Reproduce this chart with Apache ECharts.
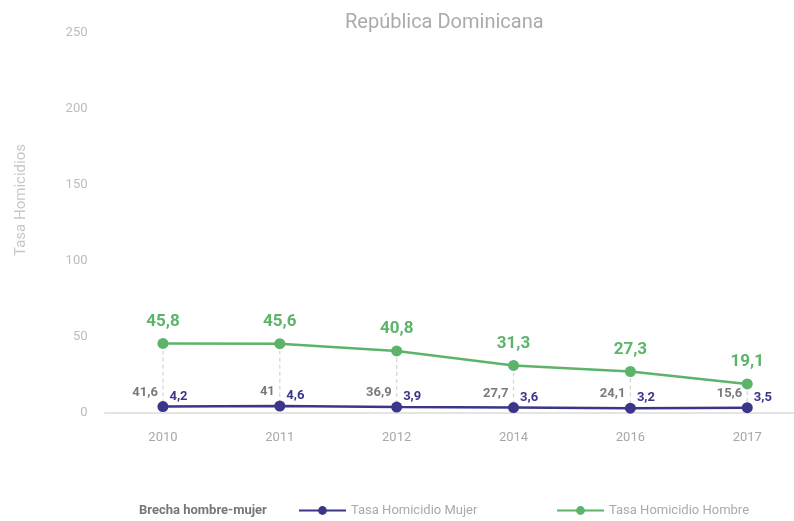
<!DOCTYPE html>
<html>
<head>
<meta charset="utf-8">
<script src="https://cdn.jsdelivr.net/npm/echarts@6/dist/echarts.min.js"></script>
<style>
  html, body { margin: 0; padding: 0; background: #fff; }
  #chart { width: 794px; height: 521px; }
</style>
</head>
<body>
<div id="chart"></div>
<script>
// Homicide rates by sex, Dominican Republic
const years = ['2010', '2011', '2012', '2014', '2016', '2017'];
const tasaMujer = [4.2, 4.6, 3.9, 3.6, 3.2, 3.5];
const tasaHombre = [45.8, 45.6, 40.8, 31.3, 27.3, 19.1];
const brecha = [41.6, 41, 36.9, 27.7, 24.1, 15.6];
const yTicks = [0, 50, 100, 150, 200, 250];

const FONT = 'Roboto';
const GREEN = '#5cb46a';
const PURPLE = '#3b3688';
const fmt = v => String(v).replace('.', ',');

const chart = echarts.init(document.getElementById('chart'));

// Years sit at evenly spaced slots 0..n-1 on a numeric x axis
const slots = years.map((y, i) => i);
const mujerData = slots.map(i => [i, tasaMujer[i]]);
const hombreData = slots.map(i => [i, tasaHombre[i]]);
const brechaData = slots.map(i => [i, tasaMujer[i], tasaHombre[i], brecha[i]]);

chart.setOption({
  animation: false,
  textStyle: { fontFamily: FONT },
  title: {
    text: 'República Dominicana',
    left: 340,
    top: 8,
    textStyle: { fontFamily: FONT, fontSize: 20, fontWeight: 'normal', color: '#ababab' }
  },
  grid: { left: 104.5, right: 0, top: 33, bottom: 108, containLabel: false },
  legend: [
    {
      data: [{ name: 'Brecha hombre-mujer', icon: 'rect', itemStyle: { opacity: 0 } }],
      left: 129, top: 499, itemWidth: 0, itemHeight: 12,
      selectedMode: false,
      textStyle: { fontFamily: FONT, fontSize: 13, fontWeight: 'bold', color: '#777' }
    },
    {
      data: ['Tasa Homicidio Mujer'],
      left: 293, top: 499, itemWidth: 47, itemHeight: 11,
      textStyle: { fontFamily: FONT, fontSize: 13, color: '#aaa' }
    },
    {
      data: ['Tasa Homicidio Hombre'],
      left: 551, top: 499, itemWidth: 47, itemHeight: 11,
      textStyle: { fontFamily: FONT, fontSize: 13, color: '#aaa' }
    }
  ],
  xAxis: {
    type: 'value',
    min: -0.5,
    max: 5.4,
    splitLine: { show: false },
    axisLine: { onZero: false, lineStyle: { color: '#dcdcdc', width: 1.5 } },
    axisTick: { show: false },
    axisLabel: {
      customValues: slots,
      color: '#a8a8a8', fontSize: 13, margin: 18, fontFamily: FONT,
      formatter: v => years[Math.round(v)] || ''
    }
  },
  yAxis: {
    type: 'value',
    min: yTicks[0],
    max: yTicks[yTicks.length - 1],
    interval: 50,
    axisLine: { show: false },
    axisTick: { show: false },
    splitLine: { show: false },
    axisLabel: { color: '#bdbdbd', fontSize: 13, margin: 17, fontFamily: FONT }
  },
  graphic: [{
    type: 'text',
    x: 14, y: 200,
    rotation: Math.PI / 2,
    style: {
      text: 'Tasa Homicidios',
      fill: '#c8c8c8',
      font: '15px ' + FONT,
      align: 'center',
      verticalAlign: 'top'
    }
  }],
  series: [
    {
      name: 'Brecha hombre-mujer',
      type: 'custom',
      data: brechaData,
      z: 1,
      renderItem: function (params, api) {
        const top = api.coord([api.value(0), api.value(2)]);
        const bottom = api.coord([api.value(0), api.value(1)]);
        return {
          type: 'group',
          children: [
            {
              type: 'line',
              shape: { x1: top[0], y1: top[1], x2: bottom[0], y2: bottom[1] },
              style: { stroke: '#d8d8d8', lineWidth: 1.3, lineDash: [4, 3] }
            },
            {
              type: 'text',
              x: bottom[0] - 5,
              y: bottom[1] - 14,
              style: {
                text: fmt(api.value(3)),
                fill: '#7a7a7a',
                font: 'bold 13px ' + FONT,
                align: 'right',
                verticalAlign: 'middle'
              }
            }
          ]
        };
      }
    },
    {
      name: 'Tasa Homicidio Mujer',
      type: 'line',
      data: mujerData,
      z: 3,
      symbol: 'circle',
      symbolSize: 11,
      color: PURPLE,
      lineStyle: { color: PURPLE, width: 2.5 },
      itemStyle: { color: PURPLE },
      label: {
        show: true,
        position: 'right',
        offset: [-4, -10],
        color: PURPLE,
        fontSize: 13,
        fontWeight: 'bold',
        fontFamily: FONT,
        formatter: p => fmt(p.value[1])
      }
    },
    {
      name: 'Tasa Homicidio Hombre',
      type: 'line',
      data: hombreData,
      z: 3,
      symbol: 'circle',
      symbolSize: 11,
      color: GREEN,
      lineStyle: { color: GREEN, width: 2.5 },
      itemStyle: { color: GREEN },
      label: {
        show: true,
        position: 'top',
        distance: 8,
        color: GREEN,
        fontSize: 17,
        fontWeight: 'bold',
        fontFamily: FONT,
        formatter: p => fmt(p.value[1])
      }
    }
  ]
});
</script>
</body>
</html>
